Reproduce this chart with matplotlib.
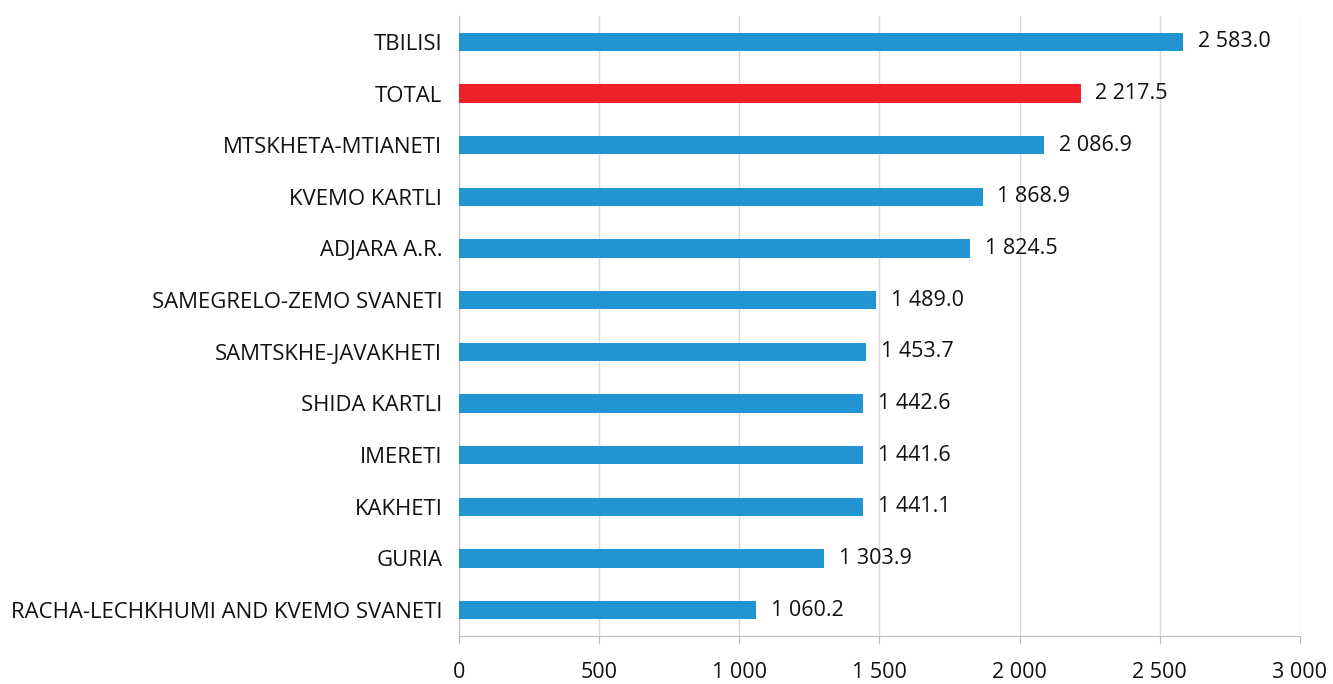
import matplotlib
matplotlib.use("Agg")
import matplotlib.pyplot as plt

plt.rcParams['font.family'] = ['Open Sans', 'DejaVu Sans']

regions = ['TBILISI', 'TOTAL', 'MTSKHETA-MTIANETI', 'KVEMO KARTLI', 'ADJARA A.R.',
           'SAMEGRELO-ZEMO SVANETI', 'SAMTSKHE-JAVAKHETI', 'SHIDA KARTLI', 'IMERETI',
           'KAKHETI', 'GURIA', 'RACHA-LECHKHUMI AND KVEMO SVANETI']
values = [2583.0, 2217.5, 2086.9, 1868.9, 1824.5, 1489.0, 1453.7, 1442.6, 1441.6,
          1441.1, 1303.9, 1060.2]
ticks = [0, 500, 1000, 1500, 2000, 2500, 3000]


def fmt(v, dec=1):
    s = f"{v:,.{dec}f}"
    return s.replace(',', ' ')


blue = '#2394d2'
red = '#ee2226'
colors = [red if r == 'TOTAL' else blue for r in regions]
fs = 15.5

fig = plt.figure(figsize=(13.33, 6.84), dpi=100)
ax = fig.add_axes([0.3443, 0.0702, 0.6309, 0.9064])

pos = list(range(len(regions)))[::-1]
ax.barh(pos, values, height=0.35, color=colors, zorder=3)
for p, v in zip(pos, values):
    ax.annotate(fmt(v), (v, p), xytext=(10.5, 0), textcoords='offset points',
                va='center', ha='left', fontsize=fs, color='#111111')

ax.set_xlim(0, 3000)
ax.set_ylim(-0.5, len(regions) - 0.5)
ax.set_yticks(pos)
ax.set_yticklabels(regions, fontsize=15.9, color='#111111')
ax.set_xticks(ticks)
ax.set_xticklabels([fmt(t, 0) for t in ticks], fontsize=fs, color='#111111')
ax.tick_params(axis='y', length=0, pad=12)
ax.tick_params(axis='x', length=6, color='#bfbfbf', pad=13)
ax.grid(axis='x', color='#d9d9d9', linewidth=1, zorder=0)
for s in ['top', 'right']:
    ax.spines[s].set_visible(False)
ax.spines['left'].set_color('#bfbfbf')
ax.spines['bottom'].set_color('#bfbfbf')

fig.savefig('out.png', dpi=100)
